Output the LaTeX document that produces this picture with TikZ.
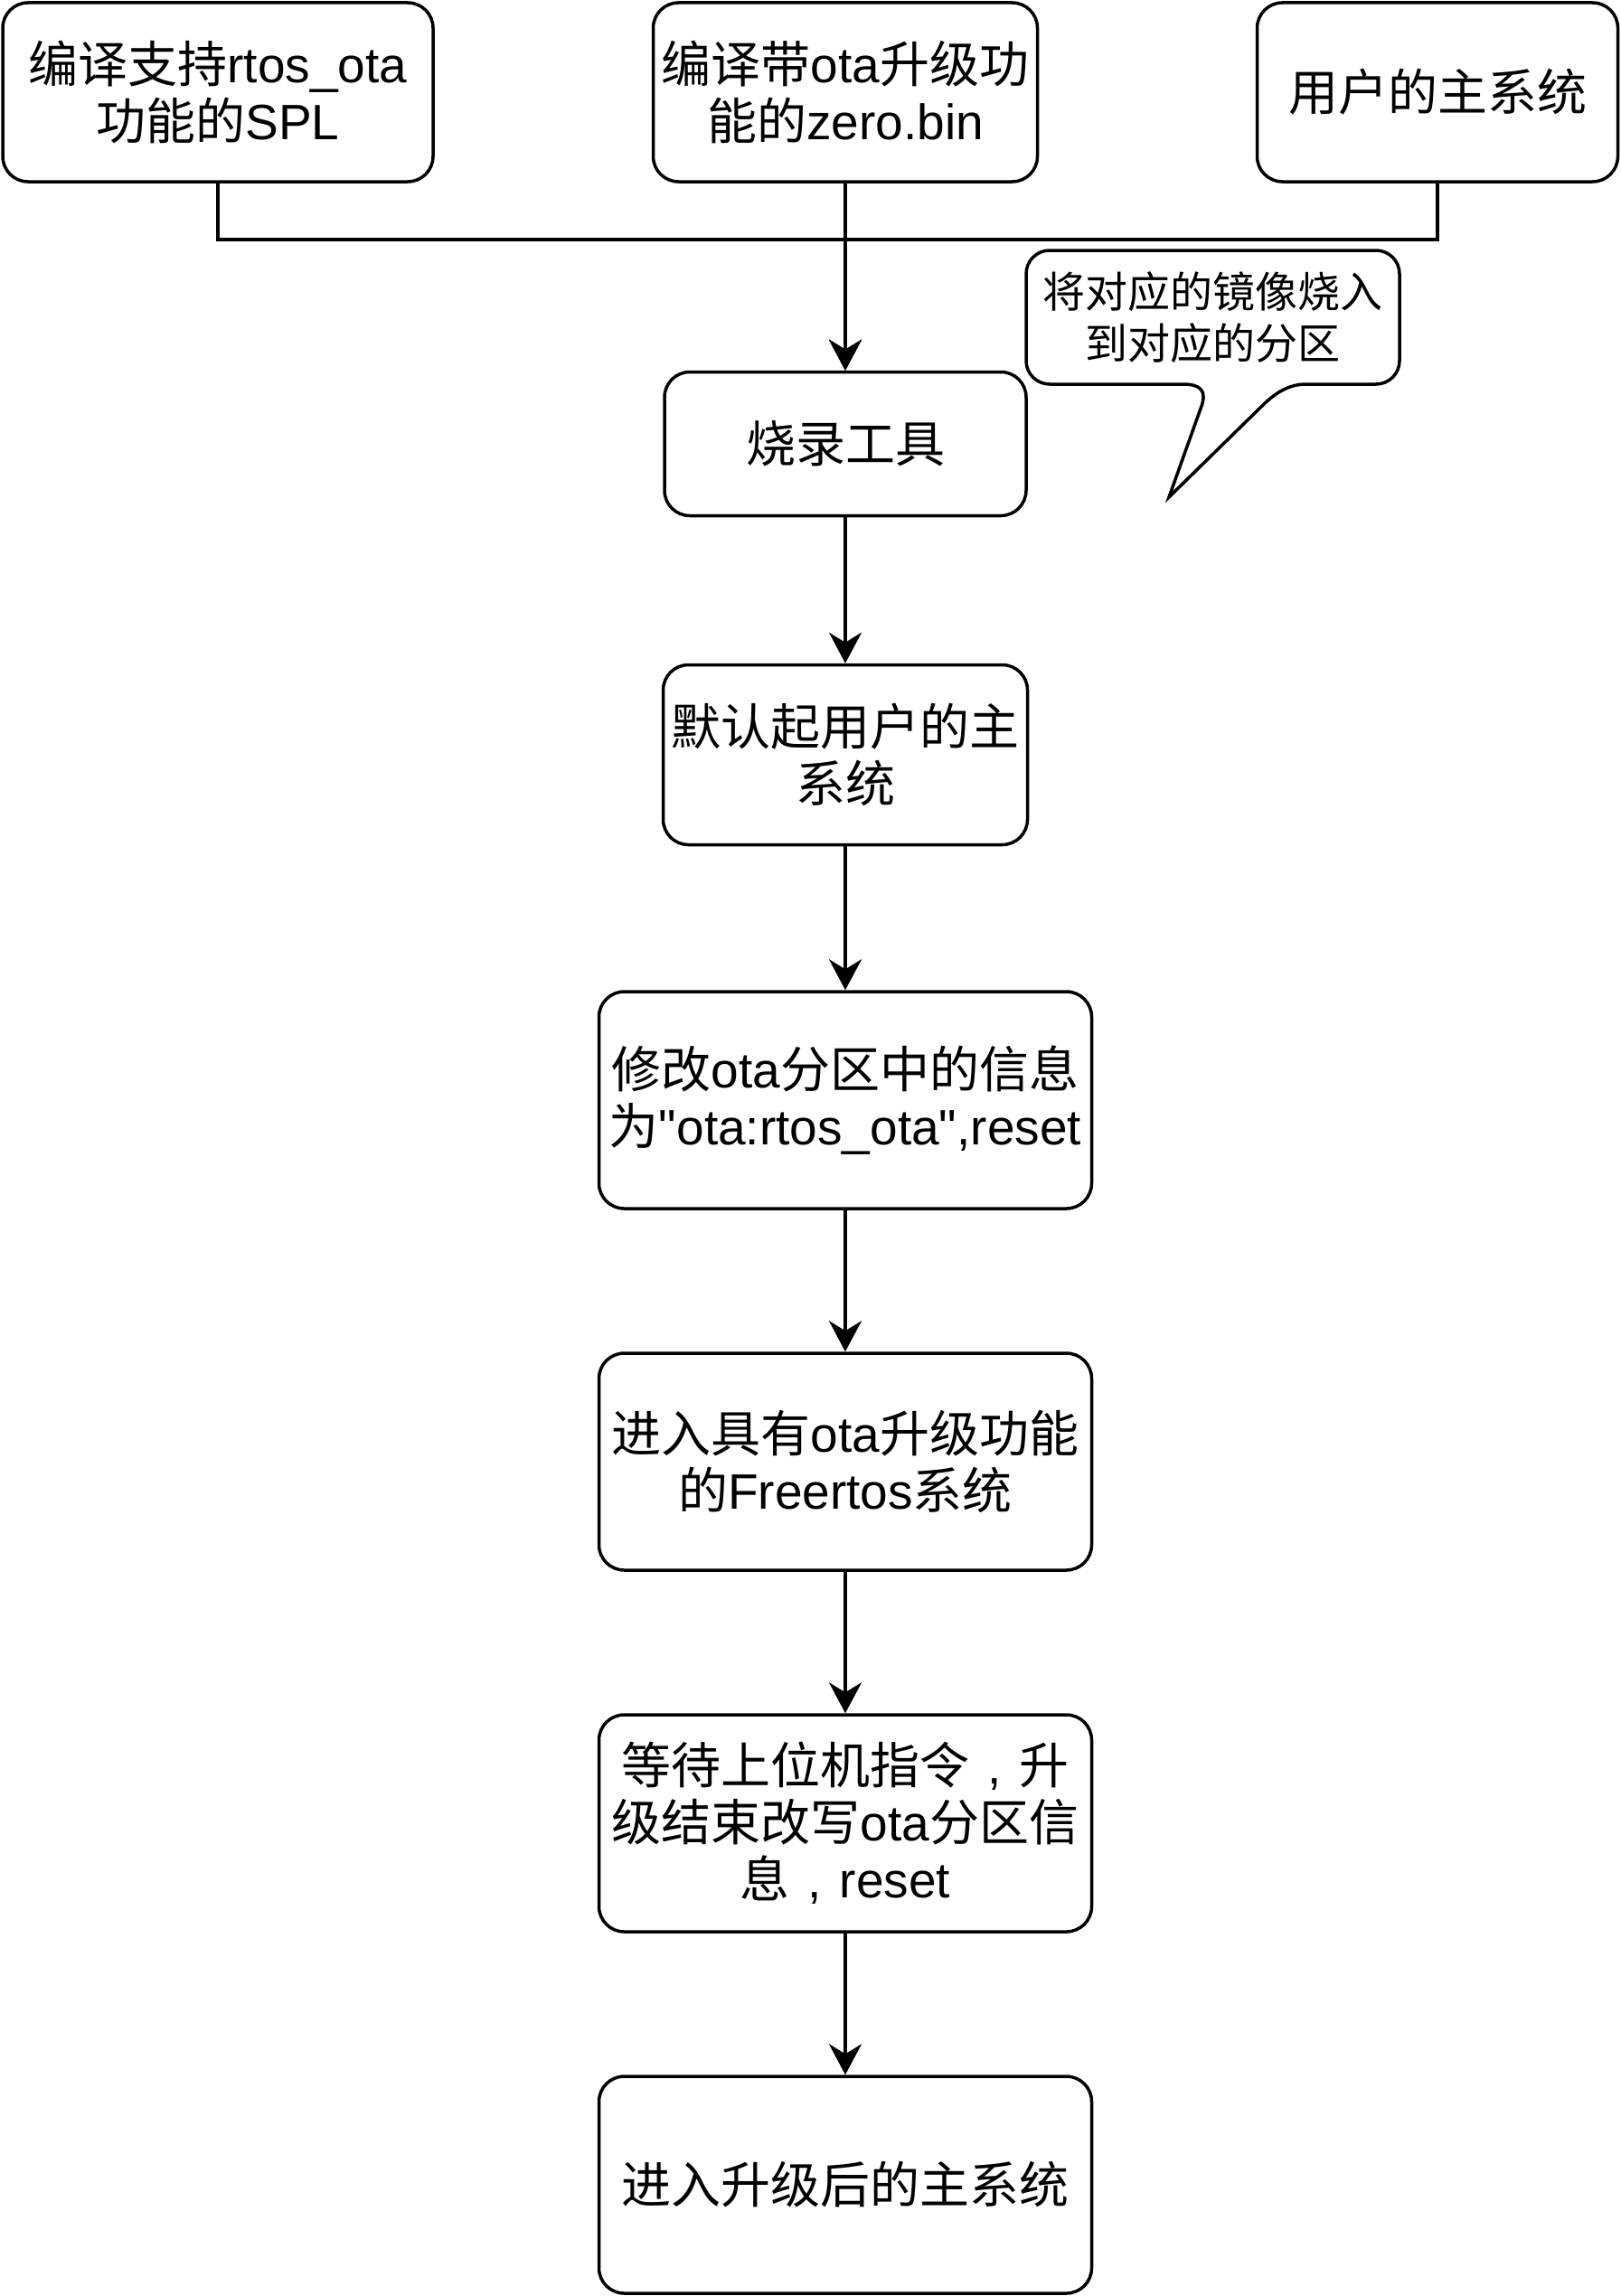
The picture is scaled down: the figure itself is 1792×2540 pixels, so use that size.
\documentclass[tikz,border=0pt]{standalone}
\usepackage{fontspec}
\setmainfont{Liberation Sans}[Ligatures=TeXOff]
\newfontfamily\cjk{Noto Sans CJK SC}
\usetikzlibrary{arrows.meta}
\newcommand\zh[1]{{\cjk #1}}
\newcommand\fwc{\makebox[1em][c]{,}}
\begin{document}
\begin{tikzpicture}[x=1pt,y=-1pt,
  box/.style={draw, line width=3.5pt, rounded corners=28pt, align=center, inner sep=0pt,
    font=\fontsize{55}{63}\selectfont},
  arr/.style={line width=3.5pt, -{Stealth[length=34pt,width=36pt,inset=11pt]}},
  calloutline/.style={draw, line width=3.5pt, line join=miter}]
\useasboundingbox (0,0) rectangle (1792,2540);
\fill[white] (0,0) rectangle (1792,2540);

% top row
\node[box, minimum width=476pt, minimum height=198pt] (b1) at (241,102)
  {\zh{编译支持}rtos\_ota\\\zh{功能的}SPL};
\node[box, minimum width=425pt, minimum height=198pt] (b2) at (935,102)
  {\zh{编译带}ota\zh{升级功}\\\zh{能的}zero.bin};
\node[box, minimum width=399pt, minimum height=198pt] (b3) at (1590,102)
  {\zh{用户的主系统}};

% main column
\node[box, minimum width=400pt, minimum height=159pt] (burn) at (935,491)
  {\zh{烧录工具}};
\node[box, minimum width=403pt, minimum height=199pt] (n1) at (935,835)
  {\zh{默认起用户的主}\\\zh{系统}};
\node[box, minimum width=545pt, minimum height=240pt] (n2) at (935,1217)
  {\zh{修改}ota\zh{分区中的信息}\\\zh{为}"ota:rtos\_ota",reset};
\node[box, minimum width=545pt, minimum height=240pt] (n3) at (935,1617)
  {\zh{进入具有}ota\zh{升级功能}\\\zh{的}Freertos\zh{系统}};
\node[box, minimum width=545pt, minimum height=240pt] (n4) at (935,2017)
  {\zh{等待上位机指令}\fwc\zh{升}\\\zh{级结束改写}ota\zh{分区信}\\\zh{息}\fwc reset};
\node[box, minimum width=545pt, minimum height=240pt] (n5) at (935,2417)
  {\zh{进入升级后的主系统}};

% callout
\path[calloutline] (1161,277) -- (1522,277)
  .. controls (1536.4,277) and (1548,288.6) .. (1548,303) -- (1548,399)
  .. controls (1548,413.4) and (1536.4,425) .. (1522,425) -- (1445,425)
  .. controls (1425,425) and (1410,435) .. (1395,450) -- (1293,550) -- (1328,452)
  .. controls (1336,432) and (1328,425) .. (1308,425) -- (1161,425)
  .. controls (1146.6,425) and (1135,413.4) .. (1135,399) -- (1135,303)
  .. controls (1135,288.6) and (1146.6,277) .. (1161,277) -- cycle;
\node[align=center, inner sep=0pt, font=\fontsize{47}{57}\selectfont] (note) at (1341,351)
  {\zh{将对应的镜像烧入}\\\zh{到对应的分区}};

% connectors
\coordinate (j) at (935,265);
\draw[arr] (b1.south) |- (j) -- (burn.north);
\draw[arr] (b3.south) |- (j) -- (burn.north);
\draw[arr] (b2.south) -- (burn.north);
\draw[arr] (burn.south) -- (n1.north);
\draw[arr] (n1.south) -- (n2.north);
\draw[arr] (n2.south) -- (n3.north);
\draw[arr] (n3.south) -- (n4.north);
\draw[arr] (n4.south) -- (n5.north);
\end{tikzpicture}
\end{document}
